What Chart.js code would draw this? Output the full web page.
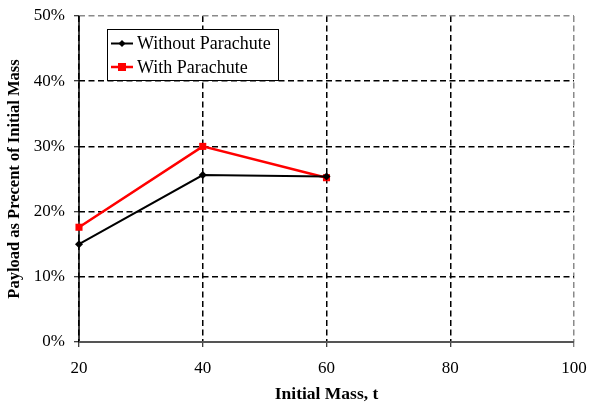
<!DOCTYPE html>
<html>
<head>
<meta charset="utf-8">
<script src="https://cdn.jsdelivr.net/npm/chart.js@4/dist/chart.umd.min.js"></script>
<style>
  html, body { margin: 0; padding: 0; background: #fff; }
  #wrap { width: 590px; height: 406px; position: relative; }
</style>
</head>
<body>
<div id="wrap"><canvas id="c" width="590" height="406"></canvas></div>
<script>
// Initial mass (t) and payload share (% of initial mass)
const massTons = [20, 40, 60];
const withoutParachute = [15.0, 25.6, 25.4];
const withParachute = [17.6, 30.0, 25.2];
const xTicks = [20, 40, 60, 80, 100];
const yTicks = [0, 10, 20, 30, 40, 50];

const serif = '"Liberation Serif", "Times New Roman", serif';

function toPoints(xs, ys) {
  return xs.map((x, i) => ({ x: x, y: ys[i] }));
}

// Boxed legend drawn inside the plot area
const boxedLegend = {
  id: 'boxedLegend',
  afterDatasetsDraw(chart) {
    const ctx = chart.ctx;
    const area = chart.chartArea;
    const x0 = area.left + 28, y0 = area.top + 13, w = 171, h = 51;
    ctx.save();
    ctx.fillStyle = '#fff';
    ctx.fillRect(x0, y0, w, h);
    ctx.strokeStyle = '#000';
    ctx.lineWidth = 1;
    ctx.setLineDash([]);
    ctx.strokeRect(x0 + 0.5, y0 + 0.5, w, h);
    ctx.font = '18px ' + serif;
    ctx.textBaseline = 'middle';
    chart.data.datasets.forEach((ds, i) => {
      const yy = y0 + 14.5 + i * 23.5;
      const lx = x0 + 4, rx = x0 + 26;
      ctx.strokeStyle = ds.borderColor;
      ctx.lineWidth = ds.borderWidth;
      ctx.beginPath();
      ctx.moveTo(lx, yy);
      ctx.lineTo(rx, yy);
      ctx.stroke();
      ctx.fillStyle = ds.pointBackgroundColor;
      const cx = (lx + rx) / 2;
      if (ds.pointStyle === 'rectRot') {
        ctx.beginPath();
        ctx.moveTo(cx, yy - 3.5);
        ctx.lineTo(cx + 3.5, yy);
        ctx.lineTo(cx, yy + 3.5);
        ctx.lineTo(cx - 3.5, yy);
        ctx.closePath();
        ctx.fill();
      } else {
        ctx.fillRect(cx - 4, yy - 4, 8, 8);
      }
      ctx.fillStyle = '#000';
      ctx.fillText(ds.label, x0 + 30, yy + 1);
    });
    ctx.restore();
  }
};

// Solid axis lines along the left and bottom edges, drawn over the dashed grid
const solidAxes = {
  id: 'solidAxes',
  beforeDatasetsDraw(chart) {
    const ctx = chart.ctx;
    const a = chart.chartArea;
    ctx.save();
    ctx.setLineDash([]);
    ctx.lineWidth = 1.5;
    ctx.strokeStyle = '#000';
    ctx.beginPath();
    ctx.moveTo(a.left, a.top);
    ctx.lineTo(a.left, a.bottom);
    ctx.stroke();
    ctx.lineWidth = 2;
    ctx.strokeStyle = '#555';
    ctx.beginPath();
    ctx.moveTo(a.left, a.bottom);
    ctx.lineTo(a.right, a.bottom);
    ctx.stroke();
    ctx.restore();
  }
};

const gridColor = (edgeValue) => (c) => (c.tick && c.tick.value === edgeValue ? '#8a8a8a' : '#000');

new Chart(document.getElementById('c'), {
  type: 'line',
  data: {
    datasets: [
      {
        label: 'Without Parachute',
        data: toPoints(massTons, withoutParachute),
        borderColor: '#000',
        backgroundColor: '#000',
        pointBackgroundColor: '#000',
        pointBorderColor: '#000',
        borderWidth: 2,
        pointStyle: 'rectRot',
        pointRadius: 4,
        pointBorderWidth: 0,
        tension: 0,
        clip: false
      },
      {
        label: 'With Parachute',
        data: toPoints(massTons, withParachute),
        borderColor: '#ff0000',
        backgroundColor: '#ff0000',
        pointBackgroundColor: '#ff0000',
        pointBorderColor: '#ff0000',
        borderWidth: 2.5,
        pointStyle: 'rect',
        pointRadius: 5,
        pointBorderWidth: 0,
        tension: 0,
        clip: false
      }
    ]
  },
  options: {
    responsive: false,
    animation: false,
    devicePixelRatio: 1,
    layout: { padding: { left: 0, right: 16, top: 16, bottom: 0 } },
    plugins: { legend: { display: false }, tooltip: { enabled: false } },
    scales: {
      x: {
        type: 'linear',
        min: 20,
        max: 100,
        afterBuildTicks(axis) { axis.ticks = xTicks.map(v => ({ value: v })); },
        afterFit(axis) { axis.height = 64; axis.paddingLeft = 0; axis.paddingRight = 0; },
        ticks: {
          color: '#000',
          font: { family: serif, size: 17 },
          padding: 11,
          maxRotation: 0
        },
        grid: {
          color: gridColor(100),
          lineWidth: 1.5,
          tickLength: 5,
          tickColor: (c) => (c.tick && c.tick.value === 100 ? '#555' : '#000'),
          tickBorderDash: [],
          tickWidth: 1
        },
        border: { display: false, dash: [6, 3.5] },
        title: {
          display: true,
          text: 'Initial Mass, t',
          color: '#000',
          font: { family: serif, size: 17.5, weight: 'bold' },
          padding: { top: 2, bottom: 1 }
        }
      },
      y: {
        min: 0,
        max: 50,
        afterBuildTicks(axis) { axis.ticks = yTicks.map(v => ({ value: v })); },
        afterFit(axis) { axis.width = 79; axis.paddingTop = 0; axis.paddingBottom = 0; },
        ticks: {
          color: '#000',
          font: { family: serif, size: 17 },
          padding: 9,
          callback: (v) => v + '%'
        },
        grid: {
          color: gridColor(50),
          lineWidth: 1.5,
          tickLength: 5,
          tickColor: '#000',
          tickBorderDash: [],
          tickWidth: 1
        },
        border: { display: false, dash: [6, 3.5] },
        title: {
          display: true,
          text: 'Payload as Precent of Initial Mass',
          color: '#000',
          font: { family: serif, size: 16.5, weight: 'bold' },
          padding: { top: 5, bottom: 0 }
        }
      }
    }
  },
  plugins: [solidAxes, boxedLegend]
});
</script>
</body>
</html>
